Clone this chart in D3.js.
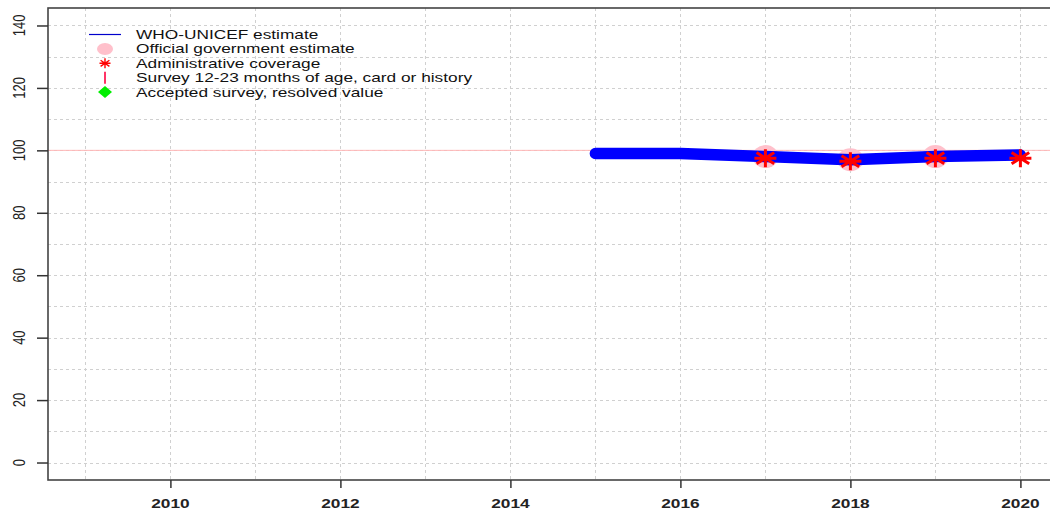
<!DOCTYPE html>
<html>
<head>
<meta charset="utf-8">
<script src="https://cdn.jsdelivr.net/npm/d3@7"></script>
<style>
  html, body { margin: 0; padding: 0; background: #fff; }
  svg { display: block; font-family: "Liberation Sans", Arial, sans-serif; }
</style>
</head>
<body>
<svg id="chart" width="1050" height="512"></svg>
<script>
// Coverage series (percent)
const estYears = [2015, 2016, 2017, 2018, 2019, 2020];
const estValues = [99, 99, 98, 97, 98, 98.5];
const officialYears = [2017, 2018, 2019];
const officialValues = [98, 97, 98];
const adminYears = [2017, 2018, 2019, 2020];
const adminValues = [97.5, 96.5, 97.5, 97.5];
const xTickYears = [2010, 2012, 2014, 2016, 2018, 2020];
const yTickValues = [0, 20, 40, 60, 80, 100, 120, 140];
const legendLabels = [
  "WHO-UNICEF estimate",
  "Official government estimate",
  "Administrative coverage",
  "Survey 12-23 months of age, card or history",
  "Accepted survey, resolved value"
];

const svg = d3.select("#chart");
const plot = { left: 48, top: 8, bottom: 480 };
const stretch = 1.33; // horizontal aspect of the rendered text and legend keys

const x = d3.scaleLinear().domain([2008.56, 2020.44]).range([plot.left, plot.left + 11.88 * 85]);
const y = d3.scaleLinear().domain([-5.6, 145.6]).range([plot.bottom, plot.top]);
const right = x.range()[1];

// Dotted grid
const grid = svg.append("g").attr("stroke", "#d0d0d0").attr("stroke-width", 1)
  .attr("stroke-dasharray", "3,3");
grid.selectAll("line.v").data(d3.range(2009, 2021)).join("line")
  .attr("x1", d => Math.round(x(d)) + 0.5).attr("x2", d => Math.round(x(d)) + 0.5)
  .attr("y1", plot.top).attr("y2", plot.bottom);
grid.selectAll("line.h").data(d3.range(0, 141, 10)).join("line")
  .attr("x1", plot.left).attr("x2", right)
  .attr("y1", d => Math.round(y(d)) + 0.5).attr("y2", d => Math.round(y(d)) + 0.5);

// 100% reference line
svg.append("line")
  .attr("x1", plot.left).attr("x2", right)
  .attr("y1", y(100)).attr("y2", y(100))
  .attr("stroke", "#ffb6b6").attr("stroke-width", 1);

// Official government estimate
svg.append("g").selectAll("ellipse").data(officialYears.map((d, i) => [d, officialValues[i]]))
  .join("ellipse")
  .attr("cx", d => x(d[0])).attr("cy", d => y(d[1])).attr("rx", 13).attr("ry", 11.5)
  .attr("fill", "#ffc0cb");

// WHO-UNICEF estimate line
svg.append("path")
  .datum(estYears.map((d, i) => [d, estValues[i]]))
  .attr("d", d3.line().x(d => x(d[0])).y(d => y(d[1])))
  .attr("fill", "none").attr("stroke", "#0000ff").attr("stroke-width", 11.5)
  .attr("stroke-linecap", "round").attr("stroke-linejoin", "round");

// Asterisk symbol
function asterisk(g, w, h) {
  const rx = w / 2, ry = h / 2;
  const dx = rx * 0.8, dy = ry * 0.62;
  const p = `M${-rx},0L${rx},0M${-dx},${-dy}L${dx},${dy}M${-dx},${dy}L${dx},${-dy}M0,${-ry}L0,${ry}`;
  return g.append("path").attr("d", p);
}

// Administrative coverage
adminYears.forEach((yr, i) => {
  const g = svg.append("g").attr("transform", `translate(${x(yr)},${y(adminValues[i])})`);
  asterisk(g, 22, 18).attr("stroke", "#ff0000").attr("stroke-width", 3).attr("fill", "none");
});

// Axes frame
svg.append("rect")
  .attr("x", plot.left).attr("y", plot.top)
  .attr("width", right - plot.left).attr("height", plot.bottom - plot.top)
  .attr("fill", "none").attr("stroke", "#444").attr("stroke-width", 1.6);

// Y axis
const yAxis = svg.append("g").attr("transform", `translate(${plot.left},0)`)
  .call(d3.axisLeft(y).tickValues(yTickValues).tickSize(11).tickPadding(0).tickFormat(""));
yAxis.select(".domain").remove();
yAxis.selectAll(".tick line").attr("stroke", "#333").attr("stroke-width", 1.5);
svg.append("g").selectAll("text").data(yTickValues).join("text")
  .attr("transform", d => `translate(25,${y(d)}) scale(${stretch},1) rotate(-90)`)
  .attr("text-anchor", "middle").attr("font-size", 13).attr("fill", "#222")
  .text(d => d);

// X axis
const xAxis = svg.append("g").attr("transform", `translate(0,${plot.bottom})`)
  .call(d3.axisBottom(x).tickValues(xTickYears).tickSize(8).tickFormat(""));
xAxis.select(".domain").remove();
xAxis.selectAll(".tick line").attr("stroke", "#333").attr("stroke-width", 1.5);
svg.append("g").selectAll("text").data(xTickYears).join("text")
  .attr("transform", d => `translate(${x(d)},508) scale(${stretch},1)`)
  .attr("text-anchor", "middle").attr("font-size", 13).attr("font-weight", "bold")
  .attr("fill", "#222")
  .text(d => d);

// Legend
const legend = svg.append("g");
const rowY = i => 34.5 + i * 14.4;
const symX = 105;
legend.append("line").attr("x1", 89).attr("x2", 121).attr("y1", rowY(0)).attr("y2", rowY(0))
  .attr("stroke", "#0000cc").attr("stroke-width", 1.2);
legend.append("ellipse").attr("cx", symX).attr("cy", rowY(1)).attr("rx", 8).attr("ry", 6)
  .attr("fill", "#ffc0cb");
asterisk(legend.append("g").attr("transform", `translate(${symX},${rowY(2)})`), 11, 10)
  .attr("stroke", "#ff0000").attr("stroke-width", 1.4);
legend.append("line").attr("x1", symX).attr("x2", symX).attr("y1", rowY(3) - 6).attr("y2", rowY(3) + 6)
  .attr("stroke", "#ff3366").attr("stroke-width", 2);
legend.append("path").attr("d", "M0,-6L7,0L0,6L-7,0Z")
  .attr("transform", `translate(${symX},${rowY(4)})`).attr("fill", "#00ee00");
legend.selectAll("text").data(legendLabels).join("text")
  .attr("transform", (d, i) => `translate(136,${rowY(i) + 4.5}) scale(${stretch},1)`)
  .attr("font-size", 13).attr("fill", "#111")
  .text(d => d);
</script>
</body>
</html>
